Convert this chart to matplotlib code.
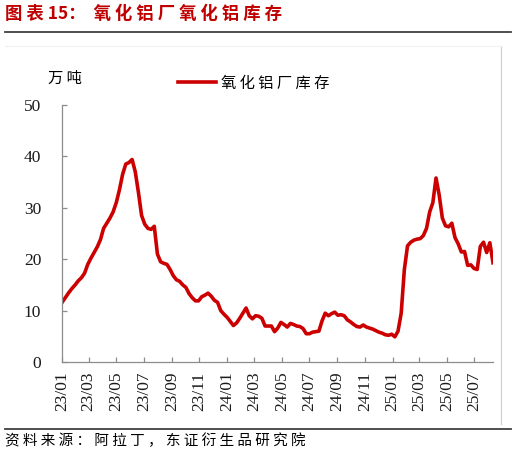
import matplotlib
matplotlib.use('Agg')
import matplotlib.pyplot as plt
import matplotlib.dates as mdates
from matplotlib.lines import Line2D
import pandas as pd

plt.rcParams['font.family'] = ['Noto Sans CJK SC', 'DejaVu Sans']

# 数据：氧化铝厂氧化铝库存（万吨），周度
start_date = '2023-01-02'
inventory = [
    11.7, 12.6, 13.5, 14.3, 15.0, 15.8, 16.4, 17.3, 19.0, 20.2,
    21.3, 22.4, 23.8, 26.0, 27.0, 28.0, 29.2, 31.0, 33.5, 36.5,
    38.5, 38.8, 39.4, 37.0, 33.0, 28.5, 26.8, 26.0, 25.8, 26.4,
    21.0, 19.5, 19.2, 19.0, 18.0, 16.8, 16.0, 15.7, 15.0, 14.5,
    13.3, 12.5, 11.9, 11.9, 12.7, 13.0, 13.4, 12.8, 12.0, 11.6,
    10.0, 9.3, 8.7, 7.9, 7.1, 7.6, 8.5, 9.5, 10.5, 9.0,
    8.4, 9.0, 8.9, 8.5, 7.0, 7.0, 7.0, 5.9, 6.6, 7.7,
    7.3, 6.8, 7.5, 7.3, 7.0, 6.9, 6.5, 5.5, 5.5, 5.8,
    5.9, 6.0, 8.0, 9.5, 9.0, 9.4, 9.7, 9.1, 9.2, 9.0,
    8.2, 7.8, 7.3, 6.9, 6.8, 7.2, 6.8, 6.6, 6.4, 6.1,
    5.8, 5.6, 5.3, 5.2, 5.4, 4.9, 6.0, 9.5, 18.0, 22.6,
    23.3, 23.7, 23.9, 24.0, 24.6, 26.0, 29.2, 31.0, 35.8, 32.5,
    28.0, 26.5, 26.3, 27.0, 24.2, 23.0, 21.4, 21.5, 18.8, 18.9,
    18.2, 18.0, 22.5, 23.3, 21.3, 23.2, 19.3,
]
dates = pd.date_range(start_date, periods=len(inventory), freq='7D')

y_ticks = [0, 10, 20, 30, 40, 50]
title = '图 表 15：  氧 化 铝 厂 氧 化 铝 库 存'
series_name = '氧 化 铝 厂 库 存'
unit = '万 吨'
source = '资 料 来 源 ： 阿 拉 丁 ， 东 证 衍 生 品 研 究 院'

W, H = 516, 459
RED = '#CC0000'


def px(x, y):
    # 像素坐标 -> figure 坐标
    return x / W, 1 - y / H


fig = plt.figure(figsize=(W / 100, H / 100), dpi=100)
ax = fig.add_axes([62 / W, 1 - 362 / H, 431 / W, 257 / H])

line, = ax.plot(dates, inventory, color=RED, lw=2.6, label=series_name,
                solid_joinstyle='round')

ax.set_ylim(0, 50)
ax.set_yticks(y_ticks)
ax.set_xlim(pd.Timestamp('2023-01-01'), pd.Timestamp('2025-08-11'))
ax.xaxis.set_major_locator(mdates.MonthLocator(bymonth=[1, 3, 5, 7, 9, 11]))
ax.xaxis.set_major_formatter(mdates.DateFormatter('%y/%m'))

for s in ['top', 'right']:
    ax.spines[s].set_visible(False)
for s in ['left', 'bottom']:
    ax.spines[s].set_color('#8c8c8c')
    ax.spines[s].set_linewidth(0.9)

ax.tick_params(axis='both', direction='in', length=3.5, width=0.9, color='#8c8c8c',
               labelsize=12.5, labelfontfamily='Liberation Serif', labelcolor='#1a1a1a')
ax.tick_params(axis='y', pad=15)
ax.tick_params(axis='x', pad=7, labelrotation=90)

# 图例
ax.legend(handles=[line], loc='center left', bbox_to_anchor=px(178, 83),
          bbox_transform=fig.transFigure, frameon=False, fontsize=11,
          handlelength=2.5, handletextpad=0.3, borderpad=0, borderaxespad=0)

# 标题、单位、来源
fig.text(*px(5, 14), title, color='#C00000', fontsize=12.5, fontweight='bold',
         va='center', ha='left')
fig.text(*px(48, 78), unit, fontsize=11, va='center', ha='left')
fig.text(*px(5, 441), source, fontsize=10.5, va='center', ha='left')

# 分隔线与边框
fig.add_artist(Line2D([5 / W, 511 / W], [1 - 32 / H] * 2, color='#404040', lw=1.3))
fig.add_artist(Line2D([5 / W, 511 / W], [1 - 429 / H] * 2, color='#404040', lw=1.3))
fig.add_artist(Line2D([500.5 / W] * 2, [1 - 46 / H, 1 - 424 / H], color='#d0d0d0', lw=0.9))
fig.add_artist(Line2D([5 / W, 500.5 / W], [1 - 46 / H] * 2, color='#f0f0f0', lw=0.8))

fig.savefig('out.png', dpi=100)
